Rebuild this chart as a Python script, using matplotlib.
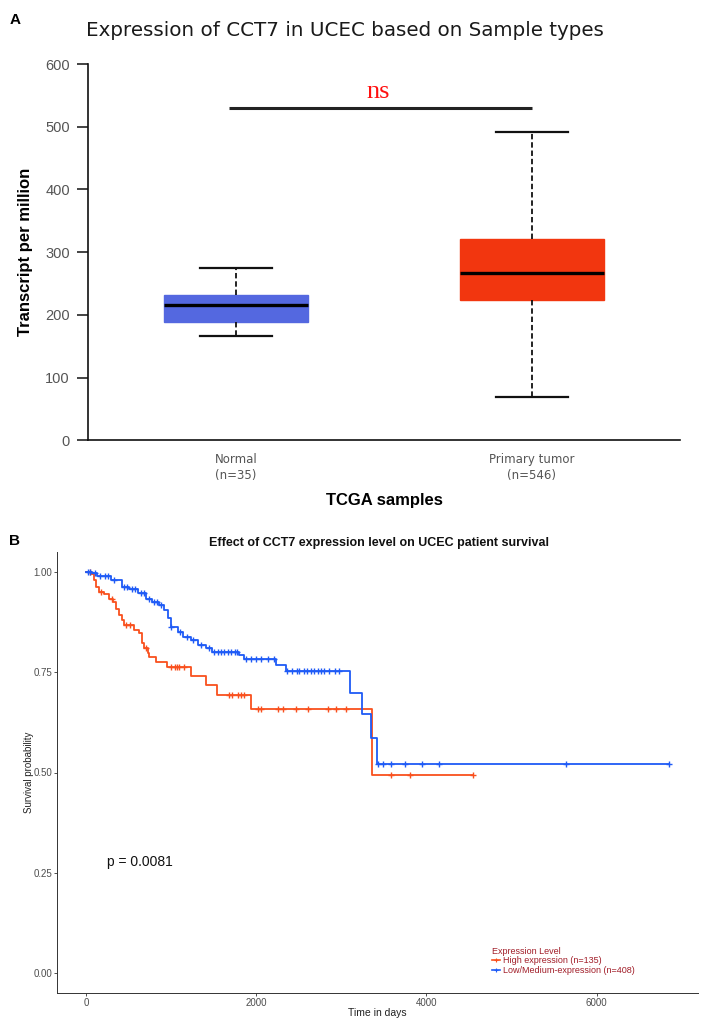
import numpy as np
import matplotlib
matplotlib.use("Agg")
import matplotlib.pyplot as plt
from matplotlib.lines import Line2D

# ---------------- Data: panel A (box plot) ----------------
groups = ["Normal\n(n=35)", "Primary tumor\n(n=546)"]
box_whislo = [166, 69]
box_q1 = [189, 223]
box_med = [215, 267]
box_q3 = [231, 321]
box_whishi = [275, 492]
box_colors = ["#5468E0", "#F2360F"]
sig_label = "ns"
sig_y = 530

# ---------------- Data: panel B (Kaplan-Meier) ----------------
high_time = [0, 55, 94, 114, 153, 212, 271, 310, 349, 388, 420, 447, 565, 624, 655,
             682, 722, 741, 820, 945, 1231, 1408, 1533, 1937, 3357]
high_surv = [1.0, 0.994, 0.980, 0.963, 0.951, 0.944, 0.934, 0.926, 0.909, 0.893, 0.880,
             0.868, 0.855, 0.847, 0.822, 0.810, 0.797, 0.789, 0.776, 0.762, 0.741, 0.718,
             0.693, 0.658, 0.494]
high_end = 4545
high_censor = [40, 180, 300, 470, 520, 700, 1000, 1040, 1070, 1094, 1150, 1682, 1720,
               1780, 1820, 1859, 2015, 2055, 2251, 2310, 2467, 2604, 2839, 2937, 3055,
               3584, 3808, 4545]

low_time = [0, 74, 133, 290, 417, 506, 604, 702, 780, 859, 918, 957, 996, 1074, 1133,
            1231, 1310, 1408, 1482, 1800, 1859, 2231, 2349, 3106, 3243, 3349, 3415]
low_surv = [1.0, 0.997, 0.991, 0.980, 0.963, 0.958, 0.947, 0.934, 0.926, 0.919, 0.905,
            0.885, 0.864, 0.851, 0.839, 0.830, 0.818, 0.810, 0.801, 0.793, 0.782, 0.768,
            0.752, 0.699, 0.645, 0.587, 0.521]
low_end = 6850
low_censor = [20, 40, 100, 160, 220, 260, 330, 450, 480, 540, 570, 640, 680, 740, 800,
              830, 880, 1000, 1100, 1180, 1260, 1350, 1440, 1506, 1545, 1585, 1625, 1665,
              1705, 1745, 1776, 1879, 1937, 1996, 2055, 2133, 2212, 2365, 2420, 2480,
              2506, 2560, 2600, 2640, 2680, 2720, 2760, 2800, 2860, 2920, 2976, 3435,
              3486, 3584, 3753, 3945, 4153, 5643, 6850]

legend_labels = ["High expression (n=135)", "Low/Medium-expression (n=408)"]
km_colors = ["#F9501E", "#1F5BF6"]
pval_text = "p = 0.0081"
x_ticks_km = [0, 2000, 4000, 6000]
y_ticks_km = [0.00, 0.25, 0.50, 0.75, 1.00]

# ---------------- Figure ----------------
W, H = 708, 1028
fig = plt.figure(figsize=(W / 100, H / 100), dpi=100)
plt.rcParams["font.family"] = ["Liberation Sans", "DejaVu Sans"]

# ---- Panel A ----
ax1 = fig.add_axes([88 / W, 1 - 440.3 / H, 592 / W, 376.3 / H])
stats = []
for i in range(len(groups)):
    stats.append(dict(med=box_med[i], q1=box_q1[i], q3=box_q3[i],
                      whislo=box_whislo[i], whishi=box_whishi[i], fliers=[], label=groups[i]))
bp = ax1.bxp(stats, positions=[1, 2], widths=0.485, capwidths=0.24, patch_artist=True,
             showfliers=False,
             whiskerprops=dict(color="#111111", linestyle=(0, (3, 1.6)), linewidth=1.3),
             capprops=dict(color="#111111", linewidth=1.6),
             medianprops=dict(color="#000000", linewidth=2.4))
for patch, c in zip(bp["boxes"], box_colors):
    patch.set_facecolor(c)
    patch.set_edgecolor(c)
    patch.set_linewidth(1.0)

ax1.set_xlim(0.5, 2.5)
ax1.set_ylim(0, 600)
ax1.set_yticks(range(0, 601, 100))
for s in ["top", "right"]:
    ax1.spines[s].set_visible(False)
for s in ["left", "bottom"]:
    ax1.spines[s].set_linewidth(1.2)
    ax1.spines[s].set_color("#111111")
ax1.tick_params(axis="y", direction="out", length=8, width=1.1, color="#111111",
                labelsize=10.5, labelcolor="#555555", pad=5)
ax1.tick_params(axis="x", length=0, pad=9)
ax1.set_xticks([1, 2])
ax1.set_xticklabels(groups, fontsize=8.5, color="#555555", family="DejaVu Sans",
                    linespacing=1.3)
ax1.set_ylabel("Transcript per million", fontsize=12, fontweight="bold")
ax1.yaxis.set_label_coords((33 - 88) / 592, 0.5)

# significance bar
ax1.plot([0.978, 2.0], [sig_y, sig_y], color="#222222", linewidth=2.2,
         solid_capstyle="butt")
ax1.text(1.48, 556, sig_label, color="#FF1010", fontsize=19, family="Liberation Serif",
         ha="center", va="center")

fig.text(345 / W, 1 - 30 / H, "Expression of CCT7 in UCEC based on Sample types",
         fontsize=14.3, family="DejaVu Sans", color="#1a1a1a", ha="center", va="center")
fig.text(384 / W, 1 - 500 / H, "TCGA samples", fontsize=12, fontweight="bold",
         ha="center", va="center")
fig.text(10 / W, 1 - 20 / H, "A", fontsize=11, fontweight="bold", ha="left", va="center")

# ---- Panel B ----
ax2 = fig.add_axes([57 / W, 1 - 993 / H, 641 / W, 441 / H])


def km_draw(ax, t, s, t_end, cens, color, label):
    tt = np.append(np.asarray(t, float), t_end)
    ss = np.append(np.asarray(s, float), s[-1])
    ax.step(tt, ss, where="post", color=color, linewidth=1.3)
    cens = np.asarray(cens, float)
    idx = np.searchsorted(np.asarray(t, float), cens, side="right") - 1
    cy = np.asarray(s, float)[idx]
    ax.plot(cens, cy, linestyle="none", marker="+", markersize=3.8,
            markeredgewidth=1.0, color=color)


km_draw(ax2, high_time, high_surv, high_end, high_censor, km_colors[0], legend_labels[0])
km_draw(ax2, low_time, low_surv, low_end, low_censor, km_colors[1], legend_labels[1])

ax2.set_xlim(-342.5, 7192.5)
ax2.set_ylim(-0.05, 1.05)
ax2.set_xticks(x_ticks_km)
ax2.set_yticks(y_ticks_km)
ax2.set_yticklabels([f"{v:.2f}" for v in y_ticks_km])
for s in ["top", "right"]:
    ax2.spines[s].set_visible(False)
for s in ["left", "bottom"]:
    ax2.spines[s].set_linewidth(0.7)
    ax2.spines[s].set_color("#333333")
ax2.tick_params(direction="out", length=2, width=0.6, color="#333333",
                labelsize=7, labelcolor="#4D4D4D", pad=1.5)
ax2.set_ylabel("Survival probability", fontsize=7, color="#222222")
ax2.yaxis.set_label_coords((34 - 57) / 641, 0.5)
ax2.set_xlabel("Time in days", fontsize=7.5, color="#222222", labelpad=0)

ax2.text(241, 0.277, pval_text, fontsize=10, ha="left", va="center", color="#111111")

handles = [Line2D([0], [0], color=c, linewidth=1.2, marker="+", markersize=3,
                  markeredgewidth=0.8) for c in km_colors]
leg = fig.legend(handles, legend_labels, title="Expression Level",
                 loc="upper left", bbox_to_anchor=(492 / W, 1 - 947 / H),
                 frameon=False, fontsize=6.5, title_fontsize=6.5, handlelength=0.9,
                 handletextpad=0.3, labelspacing=0.05, borderpad=0, borderaxespad=0,
                 alignment="left", labelcolor="#A11D28")
leg.get_title().set_color("#A11D28")

fig.text(379 / W, 1 - 543 / H, "Effect of CCT7 expression level on UCEC patient survival",
         fontsize=9, fontweight="bold", ha="center", va="center", color="#111111")
fig.text(9 / W, 1 - 541 / H, "B", fontsize=11, fontweight="bold", ha="left", va="center")

fig.savefig("out.png", dpi=100)
